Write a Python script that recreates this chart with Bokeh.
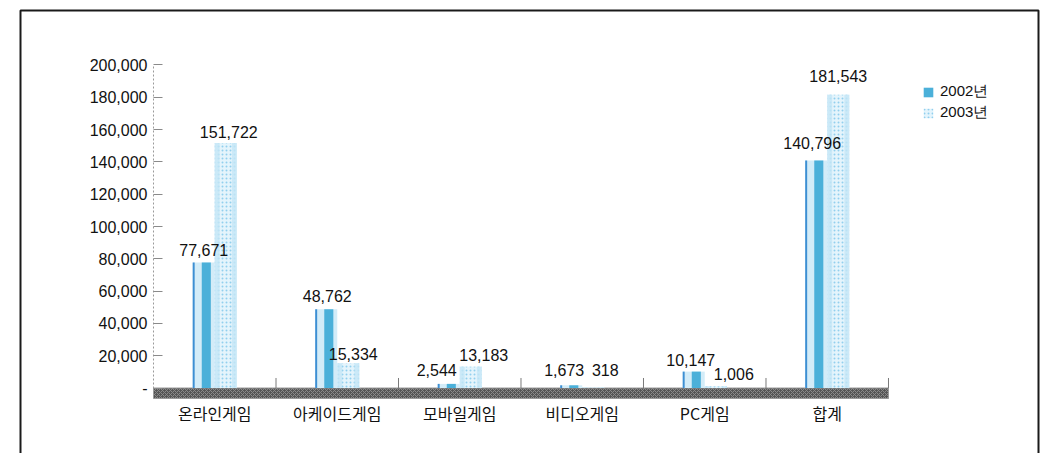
from bokeh.plotting import figure
from bokeh.models import (ColumnDataSource, Range1d, LinearAxis, FixedTicker,
                          NumeralTickFormatter, Legend, LegendItem, BoxAnnotation)
from bokeh.transform import dodge
from bokeh.core.properties import value
from bokeh.embed import file_html
from bokeh.resources import INLINE

# ---------------- data ----------------
categories = ["온라인게임", "아케이드게임", "모바일게임", "비디오게임", "PC게임", "합계"]
series_names = ["2002년", "2003년"]
values_2002 = [77671, 48762, 2544, 1673, 10147, 140796]
values_2003 = [151722, 15334, 13183, 318, 1006, 181543]
y_ticks = [0, 20000, 40000, 60000, 80000, 100000, 120000, 140000, 160000, 180000, 200000]

# ---------------- layout (label nudges, px) ----------------
dx_2002 = [0, 1, -12, -7, -3, -4]
dy_2002 = [13, 13, 14, 15, 12, 18]
dx_2003 = [3, 5, 13, 12, 18, 0]
dy_2003 = [11, 9, 12, 17, 12, 19]

n = len(categories)
xc = [i + 0.5 for i in range(n)]
BW = 0.18
FLOOR = -6500

src = ColumnDataSource(dict(
    x=xc,
    v02=values_2002,
    v03=values_2003,
    t02=[f"{v:,}" for v in values_2002],
    t03=[f"{v:,}" for v in values_2003],
    dx02=dx_2002, dy02=[-d for d in dy_2002],
    dx03=dx_2003, dy03=[-d for d in dy_2003],
))

W, H = 1044, 453
p = figure(width=W, height=H,
           x_range=Range1d(-1.249, 7.2735), y_range=Range1d(-40557, 239938),
           x_axis_type=None, y_axis_type=None,
           output_backend="svg", toolbar_location=None,
           min_border_left=0, min_border_right=0,
           min_border_top=0, min_border_bottom=0)
p.outline_line_color = None
p.background_fill_color = "white"
p.border_fill_color = "white"

# y axis
yaxis = LinearAxis(ticker=FixedTicker(ticks=y_ticks),
                   formatter=NumeralTickFormatter(format="0,0"),
                   bounds=(0, y_ticks[-1]), fixed_location=0)
yaxis.major_label_overrides = {0: "-"}
yaxis.axis_line_color = "#9a9a9a"
yaxis.axis_line_dash = "2 2"
yaxis.major_tick_in = 9
yaxis.major_tick_out = 0
yaxis.major_tick_line_color = "#8a8a8a"
yaxis.minor_tick_line_color = None
yaxis.major_label_standoff = 6
yaxis.major_label_text_font = "Liberation Sans"
yaxis.major_label_text_font_size = "16px"
yaxis.major_label_text_color = "#111111"
p.add_layout(yaxis, "left")

# x axis (categories)
xaxis = LinearAxis(ticker=FixedTicker(ticks=xc), fixed_location=0)
xaxis.major_label_overrides = {x: c for x, c in zip(xc, categories)}
xaxis.axis_line_color = None
xaxis.major_tick_line_color = None
xaxis.minor_tick_line_color = None
xaxis.major_label_standoff = 7
xaxis.major_label_text_font = "Noto Sans CJK KR"
xaxis.major_label_text_font_size = "16px"
xaxis.major_label_text_color = "#111111"
p.add_layout(xaxis, "below")

# floor band
p.quad(left=[0], right=[n], bottom=[FLOOR], top=[0],
       fill_color="#555555", line_color="#9a9a9a", line_width=1,
       hatch_pattern="x", hatch_color="#8a8a8a", hatch_scale=4, hatch_weight=1)
# category separators
p.segment(x0=list(range(1, n + 1)), y0=0, x1=list(range(1, n + 1)), y1=6200,
          line_color="#7a7a7a", line_width=1)

# 2002 bars (cylinder-like stripes)
p.vbar(x=dodge("x", -BW / 2, range=p.x_range), top="v02", bottom=0, width=BW, source=src,
       fill_color="#d3ecf8", line_color=None)
p.vbar(x=dodge("x", -BW + 0.008, range=p.x_range), top="v02", bottom=0, width=0.016,
       source=src, fill_color="#3d8fd3", line_color=None)
mid02 = p.vbar(x=dodge("x", -0.069, range=p.x_range), top="v02", bottom=0, width=0.074,
               source=src, fill_color="#4bb0d9", line_color=None)

# 2003 bars (pale dotted)
base03 = p.vbar(x=dodge("x", BW / 2, range=p.x_range), top="v03", bottom=0, width=BW, source=src,
                fill_color="#e4f4fc", line_color=None,
                hatch_pattern="dot", hatch_color="#92cfee", hatch_scale=4, hatch_weight=1.2)
p.vbar(x=dodge("x", 0.02, range=p.x_range), top="v03", bottom=0, width=0.04, source=src,
       fill_color="#c4e6f6", line_color=None, fill_alpha=0.8)
p.vbar(x=dodge("x", BW - 0.02, range=p.x_range), top="v03", bottom=0, width=0.04, source=src,
       fill_color="#c4e6f6", line_color=None, fill_alpha=0.8)

# value labels
common = dict(text_align="center", text_baseline="alphabetic",
              text_font=value("Liberation Sans"), text_font_size="16px",
              text_color="#111111", source=src)
p.text(x=dodge("x", -BW / 2, range=p.x_range), y="v02", text="t02",
       x_offset="dx02", y_offset="dy02", **common)
p.text(x=dodge("x", BW / 2, range=p.x_range), y="v03", text="t03",
       x_offset="dx03", y_offset="dy03", **common)

# legend
legend = Legend(items=[LegendItem(label=series_names[0], renderers=[mid02]),
                       LegendItem(label=series_names[1], renderers=[base03])],
                location=(922, 331))
legend.border_line_alpha = 0
legend.background_fill_alpha = 0
legend.padding = 0
legend.margin = 0
legend.spacing = 2
legend.glyph_width = 12
legend.glyph_height = 12
legend.label_height = 12
legend.label_standoff = 6
legend.label_text_font = "Liberation Sans"
legend.label_text_font_size = "15px"
legend.label_text_color = "#111111"
p.add_layout(legend)

# outer frame
frame_box = BoxAnnotation(left=20, right=1038, top=10, bottom=H + 20,
                          left_units="canvas", right_units="canvas",
                          top_units="canvas", bottom_units="canvas",
                          fill_alpha=0, line_color="#1a1a1a", line_alpha=1.0,
                          line_width=2, level="overlay")
p.add_layout(frame_box)

open("out.html", "w").write(file_html(p, INLINE))
